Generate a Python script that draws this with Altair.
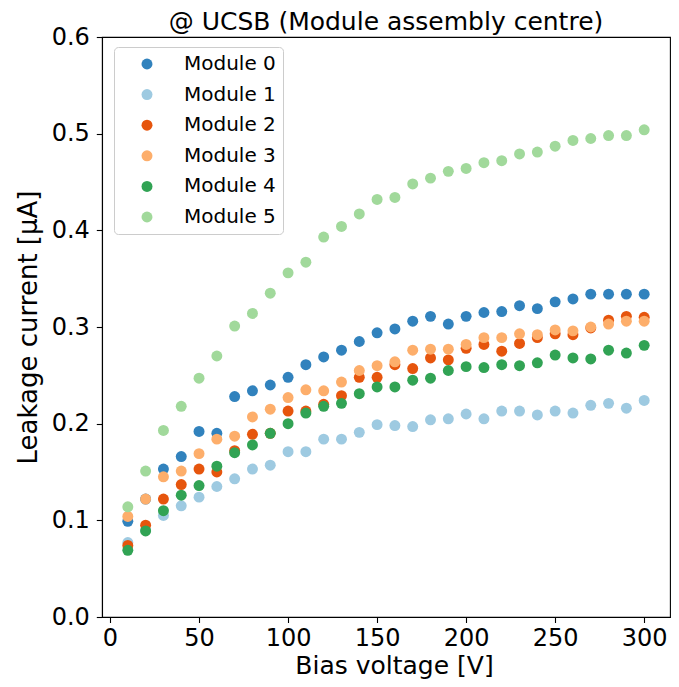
import altair as alt
import pandas as pd

voltages = [10, 20, 30, 40, 50, 60, 70, 80, 90, 100,
            110, 120, 130, 140, 150, 160, 170, 180, 190, 200,
            210, 220, 230, 240, 250, 260, 270, 280, 290, 300]

module_names = ["Module 0", "Module 1", "Module 2", "Module 3", "Module 4", "Module 5"]

m0 = [0.099, 0.122, 0.153, 0.166, 0.192, 0.190, 0.228, 0.234, 0.240, 0.248,
      0.261, 0.269, 0.276, 0.285, 0.294, 0.298, 0.306, 0.311, 0.303, 0.311,
      0.315, 0.316, 0.322, 0.319, 0.326, 0.329, 0.334, 0.334, 0.334, 0.334]
m1 = [0.077, 0.090, 0.105, 0.115, 0.124, 0.135, 0.143, 0.153, 0.157, 0.171,
      0.171, 0.184, 0.184, 0.191, 0.199, 0.198, 0.197, 0.204, 0.205, 0.210,
      0.205, 0.213, 0.213, 0.209, 0.213, 0.211, 0.219, 0.221, 0.216, 0.224]
m2 = [0.074, 0.095, 0.122, 0.137, 0.153, 0.150, 0.172, 0.189, 0.190, 0.213,
      0.213, 0.220, 0.229, 0.248, 0.248, 0.261, 0.257, 0.268, 0.266, 0.278,
      0.282, 0.275, 0.283, 0.289, 0.293, 0.292, 0.299, 0.307, 0.311, 0.310]
m3 = [0.104, 0.122, 0.145, 0.151, 0.169, 0.184, 0.187, 0.207, 0.215, 0.227,
      0.235, 0.234, 0.243, 0.255, 0.260, 0.264, 0.276, 0.277, 0.277, 0.282,
      0.289, 0.289, 0.293, 0.292, 0.297, 0.296, 0.300, 0.303, 0.306, 0.306]
m4 = [0.069, 0.089, 0.110, 0.126, 0.136, 0.156, 0.170, 0.178, 0.190, 0.200,
      0.211, 0.218, 0.221, 0.231, 0.238, 0.238, 0.245, 0.247, 0.255, 0.259,
      0.258, 0.261, 0.260, 0.263, 0.271, 0.268, 0.267, 0.276, 0.273, 0.281]
m5 = [0.114, 0.151, 0.193, 0.218, 0.247, 0.270, 0.301, 0.314, 0.335, 0.356,
      0.367, 0.393, 0.404, 0.417, 0.432, 0.434, 0.448, 0.454, 0.461, 0.464,
      0.470, 0.472, 0.479, 0.481, 0.487, 0.493, 0.495, 0.498, 0.498, 0.504]

colors = ["#3182bd", "#9ecae1", "#e6550d", "#fdae6b", "#31a354", "#a1d99b"]

x_ticks = [0, 50, 100, 150, 200, 250, 300]
y_ticks = [0.0, 0.1, 0.2, 0.3, 0.4, 0.5, 0.6]

rows = []
for name, series in zip(module_names, [m0, m1, m2, m3, m4, m5]):
    for v, c in zip(voltages, series):
        rows.append({"module": name, "voltage": v, "current": c})
df = pd.DataFrame(rows)
df["order"] = df["module"].map({n: i for i, n in enumerate(module_names)})

FONT = "DejaVu Sans"

chart = alt.Chart(df).mark_point(filled=True, opacity=1, size=120, shape="circle").encode(
    x=alt.X("voltage:Q",
            scale=alt.Scale(domain=[-4.5, 314.5], nice=False, zero=False),
            axis=alt.Axis(values=x_ticks, title="Bias voltage [V]", format="d",
                          labelBaseline="alphabetic", labelPadding=23, tickSize=5.5,
                          titleX=292, titleY=56, titleBaseline="alphabetic",
                          titleAnchor=None, titleFontSize=25)),
    y=alt.Y("current:Q",
            scale=alt.Scale(domain=[0, 0.6], nice=False),
            axis=alt.Axis(values=y_ticks, format=".1f", title="Leakage current [μA]",
                          tickSize=5.7, labelPadding=7,
                          titleX=-66, titleY=290, titleAngle=-90,
                          titleBaseline="alphabetic", titleAlign="center")),
    color=alt.Color("module:N",
                    scale=alt.Scale(domain=module_names, range=colors),
                    legend=alt.Legend(orient="none", legendX=12, legendY=10, title=None,
                                      padding=7, symbolOffset=16, labelOffset=27,
                                      rowPadding=10.6, strokeColor="#cccccc",
                                      fillColor="rgba(255,255,255,0.8)", cornerRadius=4,
                                      labelFontSize=20, labelFont=FONT, labelColor="black",
                                      symbolSize=120, symbolType="circle",
                                      symbolStrokeWidth=0, symbolOpacity=1)),
    order=alt.Order("order:Q"),
).properties(
    width=568,
    height=580,
    title=alt.TitleParams("@ UCSB (Module assembly centre)", fontSize=25, font=FONT,
                          fontWeight="normal", offset=6, anchor="middle", color="black",
                          frame="group", dy=16),
    autosize=alt.AutoSizeParams(type="none"),
    padding={"left": 94, "top": 29, "right": 1, "bottom": 62},
).configure_view(
    stroke="black", strokeWidth=1.1
).configure_axis(
    grid=False, domainColor="black", tickColor="black", domainWidth=1.1, tickWidth=1.1,
    labelColor="black", titleColor="black", labelFont=FONT, titleFont=FONT,
    labelFontSize=24, titleFontSize=26, titleFontWeight="normal"
)

chart.save("out.html", embed_options={"renderer": "svg", "actions": False})
